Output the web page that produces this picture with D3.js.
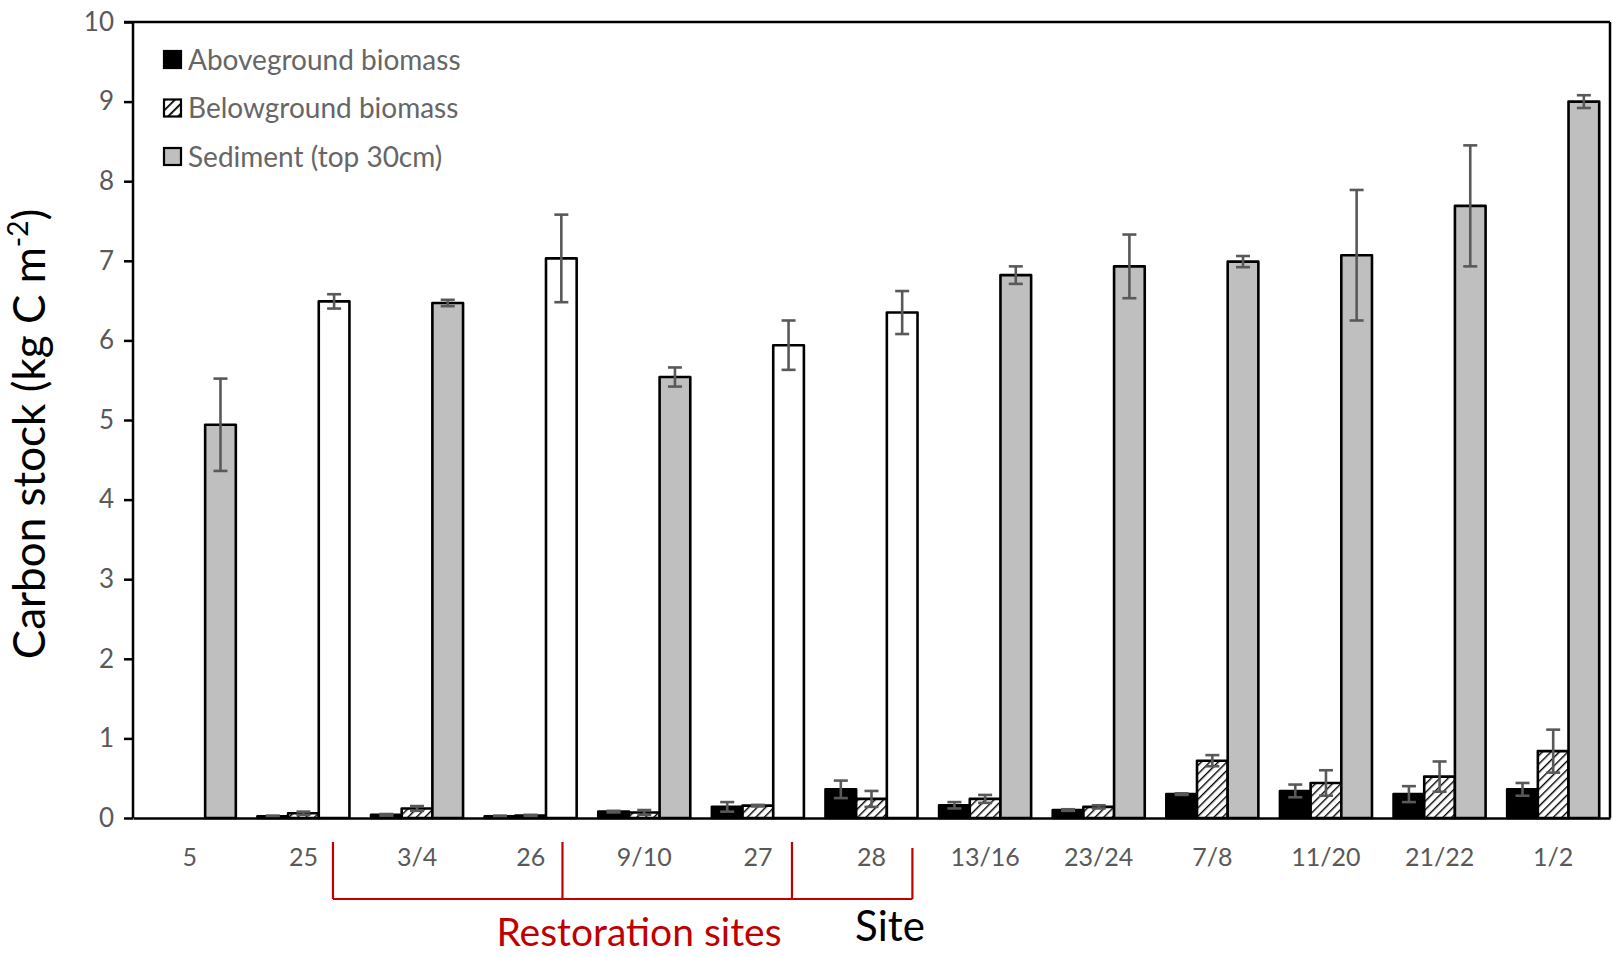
<!DOCTYPE html>
<html>
<head>
<meta charset="utf-8">
<script src="https://cdn.jsdelivr.net/npm/d3@7"></script>
<style>
  html, body { margin: 0; padding: 0; background: #fff; }
  svg { display: block; font-family: Lato, "Open Sans", sans-serif; }
</style>
</head>
<body>
<svg id="chart" width="1612" height="957"></svg>
<script>
// Sites along the x axis
const sites = ["5", "25", "3/4", "26", "9/10", "27", "28", "13/16", "23/24", "7/8", "11/20", "21/22", "1/2"];
// Series names (legend)
const seriesNames = ["Aboveground biomass", "Belowground biomass", "Sediment (top 30cm)"];
// Carbon stock means (kg C m-2) and error (± SE); null = not sampled
const aboveground    = [null, 0.02, 0.04, 0.02, 0.08, 0.14, 0.36, 0.16, 0.10, 0.30, 0.34, 0.30, 0.36];
const abovegroundErr = [null, 0.01, 0.01, 0.01, 0.01, 0.06, 0.11, 0.04, 0.01, 0.01, 0.08, 0.10, 0.08];
const belowground    = [null, 0.06, 0.12, 0.03, 0.07, 0.155, 0.24, 0.24, 0.14, 0.72, 0.44, 0.52, 0.84];
const belowgroundErr = [null, 0.02, 0.03, 0.01, 0.03, 0.01, 0.10, 0.05, 0.02, 0.07, 0.16, 0.19, 0.27];
const sediment       = [4.94, 6.49, 6.47, 7.03, 5.54, 5.94, 6.35, 6.82, 6.93, 6.99, 7.07, 7.69, 9.00];
const sedimentErr    = [0.58, 0.09, 0.04, 0.55, 0.12, 0.31, 0.27, 0.11, 0.40, 0.07, 0.82, 0.76, 0.08];
// Sites whose sediment bar is drawn open (unfilled)
const openSedimentSites = ["25", "26", "27", "28"];
// Y axis ticks
const yTicks = [0, 1, 2, 3, 4, 5, 6, 7, 8, 9, 10];
// Restoration bracket: tick positions in category units along the x axis
const bracketTicks = [1.76, 3.78, 5.80, 6.86];

const svg = d3.select("#chart");
const W = 1612, H = 957;
const margin = { top: 22, right: 2, bottom: 139, left: 133 };
const plotW = W - margin.left - margin.right;
const plotH = H - margin.top - margin.bottom;

const defs = svg.append("defs");
const hatch = defs.append("pattern")
  .attr("id", "hatch")
  .attr("patternUnits", "userSpaceOnUse")
  .attr("width", 6).attr("height", 6)
  .attr("patternTransform", "rotate(45)");
hatch.append("rect").attr("width", 6).attr("height", 6).attr("fill", "#fff");
hatch.append("line").attr("x1", 0).attr("y1", 0).attr("x2", 0).attr("y2", 6)
  .attr("stroke", "#000").attr("stroke-width", 2.8);

const hatchLegend = defs.append("pattern")
  .attr("id", "hatchLegend")
  .attr("patternUnits", "userSpaceOnUse")
  .attr("width", 7).attr("height", 7)
  .attr("patternTransform", "rotate(45)");
hatchLegend.append("rect").attr("width", 7).attr("height", 7).attr("fill", "#fff");
hatchLegend.append("line").attr("x1", 0).attr("y1", 0).attr("x2", 0).attr("y2", 7)
  .attr("stroke", "#000").attr("stroke-width", 3.5);

const g = svg.append("g").attr("transform", `translate(${margin.left},${margin.top})`);

const x0 = d3.scaleBand().domain(sites).range([0, plotW]).paddingInner(0.19).paddingOuter(0.095);
const x1 = d3.scaleBand().domain(seriesNames).range([0, x0.bandwidth()]).padding(0);
const y = d3.scaleLinear().domain([0, 10]).range([plotH, 0]);
const xUnits = d3.scaleLinear().domain([0, sites.length]).range([0, plotW]);

// Plot frame: top and right borders
g.append("line").attr("x1", -9).attr("x2", plotW).attr("y1", 0).attr("y2", 0)
  .attr("stroke", "#000").attr("stroke-width", 2.5);
g.append("line").attr("x1", plotW).attr("x2", plotW).attr("y1", 0).attr("y2", plotH)
  .attr("stroke", "#000").attr("stroke-width", 2.5);

// Assemble records per site and series
const seriesData = [
  { name: seriesNames[0], values: aboveground, errs: abovegroundErr },
  { name: seriesNames[1], values: belowground, errs: belowgroundErr },
  { name: seriesNames[2], values: sediment, errs: sedimentErr }
];
const records = [];
sites.forEach((s, i) => {
  seriesData.forEach((sd, k) => {
    if (sd.values[i] != null) {
      records.push({ site: s, series: sd.name, k, value: sd.values[i], err: sd.errs[i] });
    }
  });
});

function fillFor(d) {
  if (d.k === 0) return "#000";
  if (d.k === 1) return "url(#hatch)";
  return openSedimentSites.includes(d.site) ? "#fff" : "#bfbfbf";
}

const bars = g.append("g").attr("class", "bars");
bars.selectAll("rect")
  .data(records)
  .join("rect")
  .attr("x", d => x0(d.site) + x1(d.series))
  .attr("width", x1.bandwidth())
  .attr("y", d => y(d.value))
  .attr("height", d => y(0) - y(d.value))
  .attr("fill", fillFor)
  .attr("stroke", "#000")
  .attr("stroke-width", 2.6)
  .attr("stroke-linejoin", "round");

// Error bars
const cap = 7;
const eb = g.append("g").attr("class", "errorbars")
  .attr("stroke", "#595959").attr("stroke-width", 2.6).attr("fill", "none");
records.forEach(d => {
  const cx = x0(d.site) + x1(d.series) + x1.bandwidth() / 2;
  const yt = y(d.value + d.err), yb = y(d.value - d.err);
  eb.append("line").attr("x1", cx).attr("x2", cx).attr("y1", yt).attr("y2", yb);
  eb.append("line").attr("x1", cx - cap).attr("x2", cx + cap).attr("y1", yt).attr("y2", yt);
  eb.append("line").attr("x1", cx - cap).attr("x2", cx + cap).attr("y1", yb).attr("y2", yb);
});

// Y axis
const yAxis = g.append("g").call(
  d3.axisLeft(y).tickValues(yTicks).tickSize(9).tickPadding(10).tickFormat(d3.format("d"))
);
yAxis.select(".domain").attr("stroke", "#000").attr("stroke-width", 2.5).attr("d", `M0,${plotH}V0`);
yAxis.selectAll(".tick line").attr("stroke", "#000").attr("stroke-width", 2.5);
yAxis.selectAll(".tick text").attr("fill", "#595959").attr("font-size", 26)
  .attr("font-family", "Lato, sans-serif");

// X axis
const xAxis = g.append("g").attr("transform", `translate(0,${plotH})`).call(
  d3.axisBottom(x0).tickSize(0).tickPadding(30)
);
xAxis.select(".domain").attr("stroke", "#000").attr("stroke-width", 2.5);
xAxis.selectAll(".tick text").attr("fill", "#595959").attr("font-size", 25)
  .attr("font-family", "Lato, sans-serif");

// Axis titles
svg.append("text")
  .attr("transform", `translate(45,434) rotate(-90)`)
  .attr("text-anchor", "middle")
  .attr("font-size", 44)
  .attr("fill", "#000")
  .call(t => {
    t.append("tspan").text("Carbon stock (kg C m");
    t.append("tspan").attr("font-size", 28).attr("dy", -17).text("-2");
    t.append("tspan").attr("dy", 17).text(")");
  });

svg.append("text")
  .attr("x", 890).attr("y", 941)
  .attr("text-anchor", "middle")
  .attr("font-size", 42)
  .attr("fill", "#000")
  .text("Site");

// Restoration bracket
const br = g.append("g").attr("stroke", "#c00000").attr("stroke-width", 2.2).attr("fill", "none");
const brY = plotH + 81;
br.append("line")
  .attr("x1", xUnits(bracketTicks[0])).attr("x2", xUnits(bracketTicks[bracketTicks.length - 1]))
  .attr("y1", brY).attr("y2", brY);
bracketTicks.forEach((u, i) => {
  br.append("line")
    .attr("x1", xUnits(u)).attr("x2", xUnits(u))
    .attr("y1", i === bracketTicks.length - 1 ? plotH + 30 : plotH + 24)
    .attr("y2", brY);
});
svg.append("text")
  .attr("x", 639).attr("y", 946)
  .attr("text-anchor", "middle")
  .attr("font-size", 39)
  .attr("fill", "#c00000")
  .text("Restoration sites");

// Legend
const legend = svg.append("g").attr("transform", "translate(164,51)");
seriesNames.forEach((name, i) => {
  const row = legend.append("g").attr("transform", `translate(0,${i * 48.5})`);
  row.append("rect")
    .attr("width", 17).attr("height", 17)
    .attr("fill", i === 0 ? "#000" : i === 1 ? "url(#hatchLegend)" : "#bfbfbf")
    .attr("stroke", "#000").attr("stroke-width", 2.2);
  row.append("text")
    .attr("x", 24).attr("y", 9).attr("dy", "0.35em")
    .attr("font-size", 28).attr("fill", "#666")
    .text(name);
});
</script>
</body>
</html>
